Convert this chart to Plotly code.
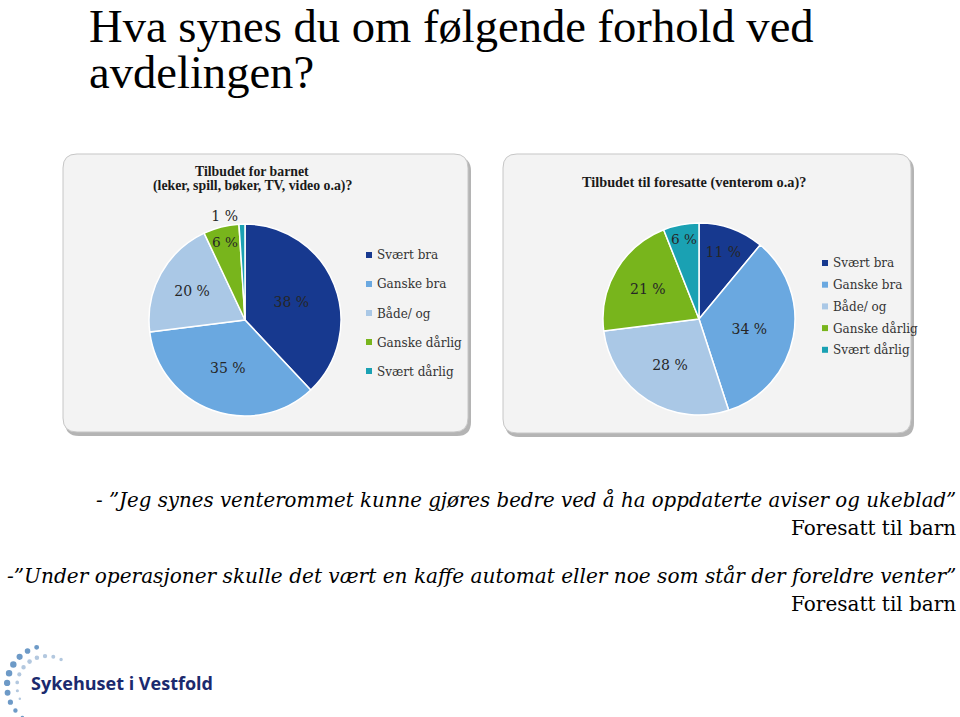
import plotly.graph_objects as go
import math

W, H = 960, 717

title_lines = ["Hva synes du om følgende forhold ved", "avdelingen?"]
categories = ["Svært bra", "Ganske bra", "Både/ og", "Ganske dårlig", "Svært dårlig"]
colors = ["#17398f", "#6aa8e0", "#aac8e6", "#78b51c", "#1aa1b3"]
chart1_title = ["Tilbudet for barnet", "(leker, spill, bøker, TV, video o.a)?"]
chart1_values = [38, 35, 20, 6, 1]
chart2_title = ["Tilbudet til foresatte (venterom o.a)?"]
chart2_values = [11, 34, 28, 21, 6]
quotes = [
    "- ”Jeg synes venterommet kunne gjøres bedre ved å ha oppdaterte aviser og ukeblad”",
    "-”Under operasjoner skulle det vært en kaffe automat eller noe som står der foreldre venter”",
]
quote_source = ["Foresatt til barn", "Foresatt til barn"]
logo_text = "Sykehuset i Vestfold"

def px(x):
    return x / W

def py(y):
    return 1 - y / H

def rounded_rect(x0, y0, x1, y1, r):
    def P(x, y):
        return f"{px(x):.5f},{py(y):.5f}"
    path = f"M {P(x0 + r, y0)} L {P(x1 - r, y0)} Q {P(x1, y0)} {P(x1, y0 + r)} "
    path += f"L {P(x1, y1 - r)} Q {P(x1, y1)} {P(x1 - r, y1)} "
    path += f"L {P(x0 + r, y1)} Q {P(x0, y1)} {P(x0, y1 - r)} "
    path += f"L {P(x0, y0 + r)} Q {P(x0, y0)} {P(x0 + r, y0)} Z"
    return path

fig = go.Figure()
shapes = []
annotations = []

panels = [(63, 154, 468, 432), (503, 154, 911, 433)]
for (x0, y0, x1, y1) in panels:
    shapes.append(dict(type="path", xref="paper", yref="paper",
                       path=rounded_rect(x0 + 2, y0 + 3, x1 + 3, y1 + 4, 14),
                       fillcolor="#b4b4b4", line=dict(width=0), layer="below"))
    shapes.append(dict(type="path", xref="paper", yref="paper",
                       path=rounded_rect(x0, y0, x1, y1, 14),
                       fillcolor="#f3f3f3", line=dict(color="#c6c6c6", width=1), layer="below"))

pies = [
    dict(values=chart1_values, cx=245, cy=320, r=96, pos=["inside"] * 4 + ["outside"]),
    dict(values=chart2_values, cx=699, cy=319, r=96, pos=["inside"] * 5),
]
for p in pies:
    fig.add_trace(go.Pie(
        labels=categories, values=p["values"], sort=False, direction="clockwise",
        rotation=0, marker=dict(colors=colors, line=dict(color="#ffffff", width=1.5)),
        texttemplate="%{value} %", textposition=p["pos"],
        insidetextorientation="horizontal",
        textfont=dict(family="DejaVu Serif", size=14, color="#262626"),
        showlegend=False, hoverinfo="label+percent",
        domain=dict(x=[px(p["cx"] - p["r"]), px(p["cx"] + p["r"])],
                    y=[py(p["cy"] + p["r"]), py(p["cy"] - p["r"])]),
    ))

# chart titles
for i, t in enumerate(chart1_title):
    annotations.append(dict(text="<b>" + t + "</b>", x=px(252), y=py(172 + i * 14), xref="paper", yref="paper",
                            showarrow=False, font=dict(family="Liberation Serif", size=13.8, color="#1a1a1a"),
                            xanchor="center", yanchor="middle"))
for i, t in enumerate(chart2_title):
    annotations.append(dict(text="<b>" + t + "</b>", x=px(694), y=py(182), xref="paper", yref="paper",
                            showarrow=False, font=dict(family="Liberation Serif", size=14.3, color="#1a1a1a"),
                            xanchor="center", yanchor="middle"))

# legends
legends = [(369, 255, 29), (825, 263, 21.7)]
for (lx, ly, dy) in legends:
    for i, (c, name) in enumerate(zip(colors, categories)):
        yy = ly + i * dy
        shapes.append(dict(type="rect", xref="paper", yref="paper",
                           x0=px(lx - 3), x1=px(lx + 3), y0=py(yy + 3), y1=py(yy - 3),
                           fillcolor=c, line=dict(width=0)))
        annotations.append(dict(text=name, x=px(lx + 6), y=py(yy), xref="paper", yref="paper",
                                showarrow=False, xanchor="left", yanchor="middle",
                                font=dict(family="DejaVu Serif", size=12, color="#333333")))

# main title
title_y = [26, 72]
for i, line in enumerate(title_lines):
    annotations.append(dict(text=line, x=px(88), y=py(title_y[i]), xref="paper", yref="paper",
                            showarrow=False, xanchor="left", yanchor="middle", borderpad=0,
                            font=dict(family="Liberation Serif", size=46.6, color="#000000")))

# quotes
qy = [500, 576]
qsize = [19.8, 20.1]
for i, (q, s) in enumerate(zip(quotes, quote_source)):
    annotations.append(dict(text="<i>" + q + "</i>", x=px(958), y=py(qy[i]), xref="paper", yref="paper",
                            showarrow=False, xanchor="right", yanchor="middle",
                            font=dict(family="DejaVu Serif", size=qsize[i], color="#000000")))
    annotations.append(dict(text=s, x=px(958), y=py(qy[i] + 28), xref="paper", yref="paper",
                            showarrow=False, xanchor="right", yanchor="middle",
                            font=dict(family="DejaVu Serif", size=20, color="#000000")))

# logo dots
cx0, cy0 = 47, 686
arcs = [
    (40, "#6d9ac7", 105, 232, 10, 6.5),
    (30, "#b3c8df", 62, 205, 10, 4.6),
]
for (rad, col, a0, a1, n, s0) in arcs:
    for k in range(n):
        t = k / (n - 1)
        ang = math.radians(a0 + t * (a1 - a0))
        x = cx0 + rad * math.cos(ang)
        y = cy0 - rad * math.sin(ang)
        s = s0 * (0.55 + 0.45 * math.sin(math.pi * (0.15 + 0.85 * t)))
        shapes.append(dict(type="circle", xref="paper", yref="paper",
                           x0=px(x - s / 2), x1=px(x + s / 2), y0=py(y + s / 2), y1=py(y - s / 2),
                           fillcolor=col, line=dict(width=0)))
annotations.append(dict(text="<b>" + logo_text + "</b>", x=px(29), y=py(683), xref="paper", yref="paper",
                        showarrow=False, xanchor="left", yanchor="middle",
                        font=dict(family="Open Sans", size=18, color="#1b2a6e")))

fig.update_layout(width=W, height=H, margin=dict(l=0, r=0, t=0, b=0),
                  paper_bgcolor="#ffffff", plot_bgcolor="#ffffff",
                  shapes=shapes, annotations=annotations)
fig.write_html("out.html")
